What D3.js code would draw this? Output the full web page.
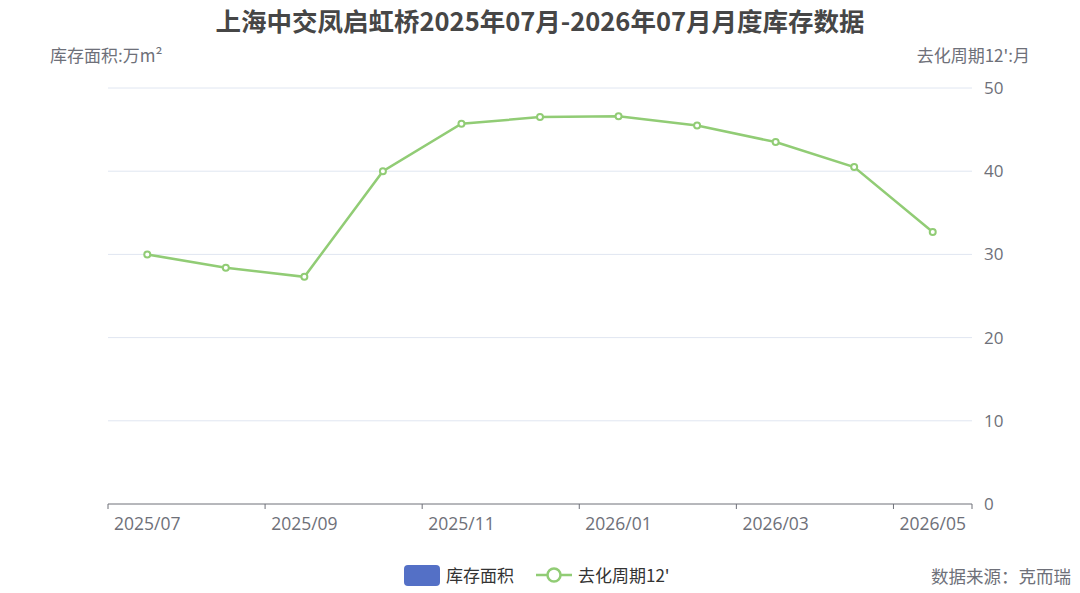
<!DOCTYPE html>
<html><head><meta charset="utf-8">
<script src="https://cdn.jsdelivr.net/npm/d3@7"></script>
<style>body{margin:0;background:#fff;}svg{display:block;font-family:"Noto Sans CJK SC","Open Sans",sans-serif;}</style>
</head><body>
<svg id="c" width="1080" height="593"></svg>
<script>
const title = "上海中交凤启虹桥2025年07月-2026年07月月度库存数据";
const categories = ["2025/07","2025/08","2025/09","2025/10","2025/11","2025/12","2026/01","2026/02","2026/03","2026/04","2026/05"];
const areaValues = [null,null,null,null,null,null,null,null,null,null,null];
const cycleValues = [30.0,28.4,27.3,40.0,45.7,46.5,46.6,45.5,43.5,40.5,32.7];
const rightTicks = [0,10,20,30,40,50];
const seriesNames = ["库存面积","去化周期12'"];

const svg = d3.select("#c");
const L=108,R=972,T=88,B=504;
const x = d3.scaleBand().domain(categories).range([L,R]).padding(0);
const y = d3.scaleLinear().domain([0,50]).range([B,T]);
const num = "'Open Sans','Noto Sans CJK SC',sans-serif";

svg.append("text").attr("x",540).attr("y",31).attr("text-anchor","middle")
 .attr("font-size",25.5).attr("font-weight","bold").attr("fill","#464646").text(title);
svg.append("text").attr("x",50).attr("y",62).attr("font-size",17).attr("fill","#6E7079").text("库存面积:万m²");
svg.append("text").attr("x",1030).attr("y",62).attr("text-anchor","end").attr("font-size",17).attr("fill","#6E7079").text("去化周期12':月");

// grid
svg.append("g").selectAll("line").data(rightTicks.filter(d=>d>0)).join("line")
 .attr("x1",L).attr("x2",R).attr("y1",d=>y(d)).attr("y2",d=>y(d)).attr("stroke","#E0E6F1");
// right axis labels
svg.append("g").selectAll("text").data(rightTicks).join("text")
 .attr("x",R+12).attr("y",d=>y(d)).attr("dy","0.35em").attr("font-size",17).attr("font-family",num).attr("fill","#6E7079").text(d=>d);

// x axis
const gx = svg.append("g");
gx.append("line").attr("x1",L).attr("x2",R).attr("y1",B).attr("y2",B).attr("stroke","#6E7079");
const tickPos = categories.map((c,i)=>i).filter(i=>i%2===0).map(i=>x(categories[i])).concat([R]);
gx.selectAll("line.t").data(tickPos).join("line").attr("class","t")
 .attr("x1",d=>d).attr("x2",d=>d).attr("y1",B).attr("y2",B+5).attr("stroke","#6E7079");
gx.selectAll("text").data(categories.filter((c,i)=>i%2===0)).join("text")
 .attr("x",d=>x(d)+x.bandwidth()/2).attr("y",B+26).attr("text-anchor","middle")
 .attr("font-size",17.5).attr("font-family",num).attr("fill","#6E7079").text(d=>d);

// line
const color="#91CC75";
const line = d3.line().x((d,i)=>x(categories[i])+x.bandwidth()/2).y(d=>y(d));
svg.append("path").datum(cycleValues).attr("d",line).attr("fill","none").attr("stroke",color).attr("stroke-width",2.5);
svg.append("g").selectAll("circle").data(cycleValues).join("circle")
 .attr("cx",(d,i)=>x(categories[i])+x.bandwidth()/2).attr("cy",d=>y(d)).attr("r",3)
 .attr("fill","#fff").attr("stroke",color).attr("stroke-width",2);

// legend
const lg = svg.append("g");
lg.append("rect").attr("x",404).attr("y",565).attr("width",36).attr("height",21).attr("rx",4).attr("fill","#5470C6");
lg.append("text").attr("x",446).attr("y",582).attr("font-size",17).attr("fill","#333").text(seriesNames[0]);
lg.append("line").attr("x1",536).attr("x2",572).attr("y1",575).attr("y2",575).attr("stroke",color).attr("stroke-width",2.5);
lg.append("circle").attr("cx",554).attr("cy",575).attr("r",6.5).attr("fill","#fff").attr("stroke",color).attr("stroke-width",2.5);
lg.append("text").attr("x",578).attr("y",582).attr("font-size",17).attr("fill","#333").text(seriesNames[1]);

svg.append("text").attr("x",1071).attr("y",583).attr("text-anchor","end").attr("font-size",17.5).attr("fill","#6E7079").text("数据来源：克而瑞");
</script>
</body></html>
